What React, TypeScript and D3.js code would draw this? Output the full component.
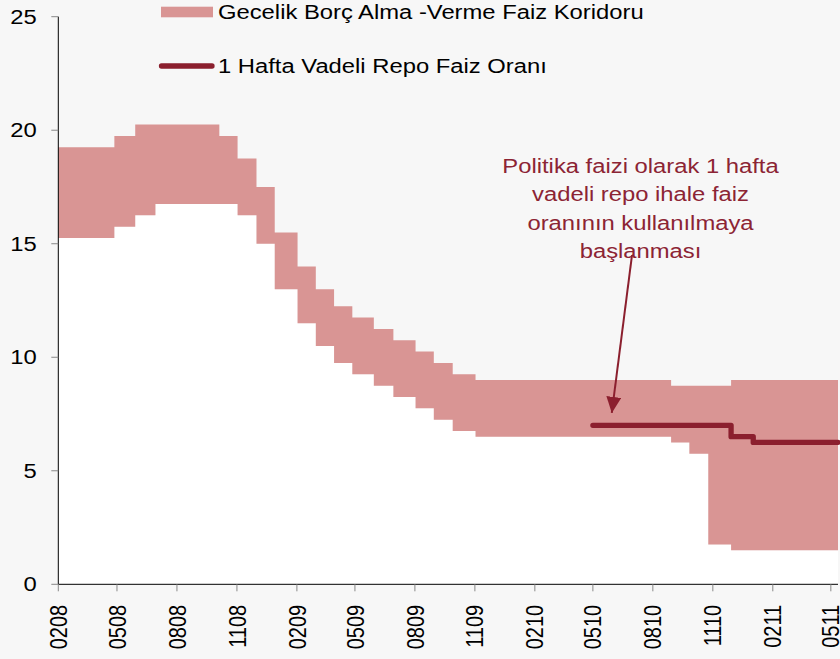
import React from "react";
import * as d3 from "d3";

// ---- data ----
const corridorDates = [
  "2008-02-19", "2008-05-15", "2008-06-16", "2008-07-17", "2008-10-23", "2008-11-20",
  "2008-12-19", "2009-01-16", "2009-02-20", "2009-03-20", "2009-04-17", "2009-05-15",
  "2009-06-17", "2009-07-17", "2009-08-20", "2009-09-17", "2009-10-16", "2009-11-20",
  "2010-09-16", "2010-10-14", "2010-11-12", "2010-12-17", "2011-05-30",
];
const borrowingRate = [
  15.25, 15.75, 16.25, 16.75, 16.75, 16.25, 15.0, 13.0, 11.5, 10.5, 9.75, 9.25,
  8.75, 8.25, 7.75, 7.25, 6.75, 6.5, 6.25, 5.75, 1.75, 1.5, 1.5,
];
const lendingRate = [
  19.25, 19.75, 20.25, 20.25, 19.75, 18.75, 17.5, 15.5, 14.0, 13.0, 12.25, 11.75,
  11.25, 10.75, 10.25, 9.75, 9.25, 9.0, 8.75, 8.75, 8.75, 9.0, 9.0,
];
const repoDates = ["2010-05-19", "2010-12-17", "2011-01-20", "2011-05-30"];
const repoRate = [7.0, 6.5, 6.25, 6.25];

const xTickLabels = [
  "0208", "0508", "0808", "1108", "0209", "0509", "0809", "1109",
  "0210", "0510", "0810", "1110", "0211", "0511",
];
const yTicks = [0, 5, 10, 15, 20, 25];

const legendLabels = [
  "Gecelik Borç Alma -Verme Faiz Koridoru",
  "1 Hafta Vadeli Repo Faiz Oranı",
];
const annotationLines = [
  "Politika faizi olarak 1 hafta",
  "vadeli repo ihale faiz",
  "oranının kullanılmaya",
  "başlanması",
];
const annotationTip = { date: "2010-06-17", value: 7.55 };
const annotationTail = { date: "2010-07-18", value: 14.5 };

// ---- layout ----
const W = 840;
const H = 659;
const X0 = 58.3;
const X1 = 838;
const Y0 = 584.3;
const Y1 = 16.7;
const STRETCH = 1.19;
const FONT = "'Liberation Sans', Arial, sans-serif";
const PINK = "#D99594";
const DARK = "#8B1F2E";
const TEXT_RED = "#8C2434";

const parse = d3.timeParse("%Y-%m-%d");

export default function App() {
  const start = parse(corridorDates[0]) as Date;
  const end = parse(corridorDates[corridorDates.length - 1]) as Date;
  const x = d3.scaleTime().domain([start, end]).range([X0, X1]);
  const y = d3.scaleLinear().domain([0, 25]).range([Y0, Y1]);

  const corridor = corridorDates.map((d, i) => ({
    date: parse(d) as Date,
    lo: borrowingRate[i],
    hi: lendingRate[i],
  }));
  const repo = repoDates.map((d, i) => ({ date: parse(d) as Date, v: repoRate[i] }));

  const whiteArea = d3
    .area<any>()
    .x((d) => x(d.date))
    .y0(y(0))
    .y1((d) => y(d.lo))
    .curve(d3.curveStepAfter)(corridor) as string;
  const pinkArea = d3
    .area<any>()
    .x((d) => x(d.date))
    .y0((d) => y(d.lo))
    .y1((d) => y(d.hi))
    .curve(d3.curveStepAfter)(corridor) as string;
  const repoLine = d3
    .line<any>()
    .x((d) => x(d.date))
    .y((d) => y(d.v))
    .curve(d3.curveStepAfter)(repo) as string;

  const tickDates = xTickLabels.map((lab) =>
    d3.timeDay.offset(d3.timeParse("%m%y")(lab) as Date, start.getDate() - 1)
  );

  const tipX = x(parse(annotationTip.date) as Date);
  const tipY = y(annotationTip.value);
  const tailX = x(parse(annotationTail.date) as Date);
  const tailY = y(annotationTail.value);

  return (
    <div style={{ position: "absolute", left: 0, top: 0, width: W, height: H }}>
      <svg width={W} height={H} style={{ display: "block" }} fontFamily={FONT}>
        <defs>
          <marker
            id="arrowhead"
            markerUnits="userSpaceOnUse"
            markerWidth={17}
            markerHeight={16}
            refX={16}
            refY={7.5}
            orient="auto"
          >
            <path d="M0,0 L16,7.5 L0,15 Z" fill={DARK} />
          </marker>
        </defs>
        <rect x={0} y={0} width={W} height={H} fill="#F7F7F7" />
        <path d={whiteArea} fill="#FFFFFF" />
        <path d={pinkArea} fill={PINK} />
        <path
          d={repoLine}
          fill="none"
          stroke={DARK}
          strokeWidth={5.3}
          strokeLinejoin="round"
          strokeLinecap="round"
        />

        {/* axes */}
        <line x1={X0} x2={X0} y1={Y1} y2={Y0} stroke="#000" strokeWidth={1} />
        <line x1={X0} x2={X1} y1={Y0} y2={Y0} stroke="#000" strokeWidth={1} />
        {yTicks.map((t) => (
          <g key={"y" + t}>
            <line x1={X0 - 7} x2={X0} y1={y(t)} y2={y(t)} stroke="#888" strokeWidth={1} />
            <text
              transform={`translate(${X0 - 21.5},${y(t) + 7}) scale(${STRETCH},1)`}
              textAnchor="end"
              fontSize={20}
              fill="#000"
            >
              {t}
            </text>
          </g>
        ))}
        {tickDates.map((d, i) => (
          <g key={"x" + i}>
            <line x1={x(d)} x2={x(d)} y1={Y0} y2={Y0 + 7} stroke="#888" strokeWidth={1} />
            <text
              transform={`translate(${x(d) + 8.6},${Y0 + 20.5}) rotate(-90) scale(1,${STRETCH})`}
              textAnchor="end"
              fontSize={20}
              fill="#000"
            >
              {xTickLabels[i]}
            </text>
          </g>
        ))}

        {/* legend */}
        <rect x={161} y={6.7} width={52} height={10.6} fill={PINK} />
        <text transform={`translate(218,19) scale(${STRETCH},1)`} fontSize={20} fill="#000">
          {legendLabels[0]}
        </text>
        <line
          x1={161.5}
          x2={212}
          y1={66}
          y2={66}
          stroke={DARK}
          strokeWidth={5.3}
          strokeLinecap="round"
        />
        <text transform={`translate(218,73.3) scale(${STRETCH},1)`} fontSize={20} fill="#000">
          {legendLabels[1]}
        </text>

        {/* annotation */}
        {annotationLines.map((l, i) => (
          <text
            key={"a" + i}
            transform={`translate(640.5,${172.5 + i * 28.5}) scale(${STRETCH},1)`}
            textAnchor="middle"
            fontSize={20}
            fill={TEXT_RED}
          >
            {l}
          </text>
        ))}
        <line
          x1={tailX}
          y1={tailY}
          x2={tipX}
          y2={tipY}
          stroke={DARK}
          strokeWidth={2}
          markerEnd="url(#arrowhead)"
        />
      </svg>
    </div>
  );
}
